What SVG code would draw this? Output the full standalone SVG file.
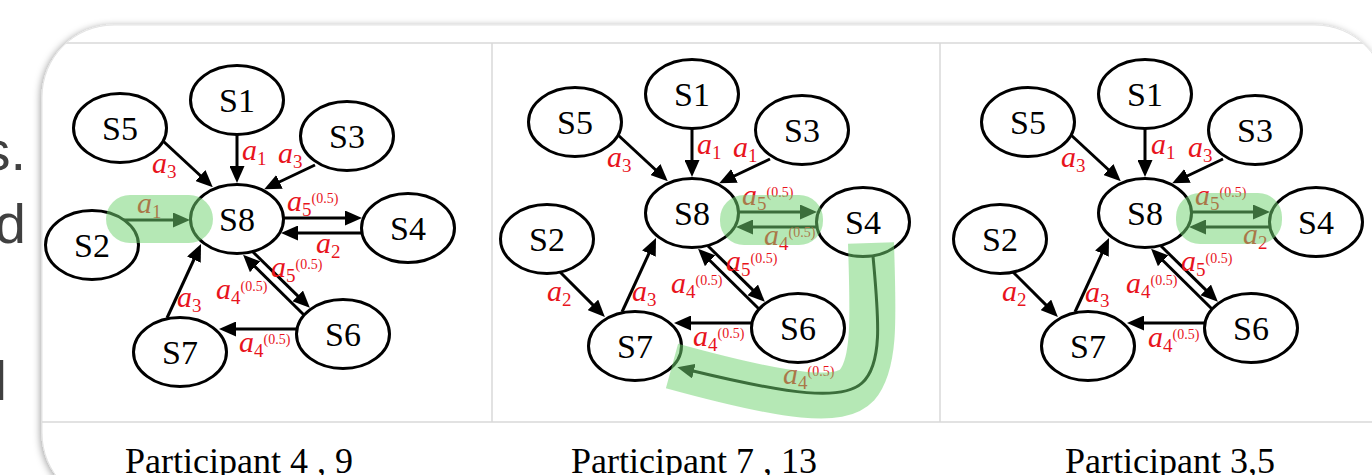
<svg xmlns="http://www.w3.org/2000/svg" width="1372" height="475" viewBox="0 0 1372 475">
<defs>
<style>
.node ellipse{fill:#fff;stroke:#000;stroke-width:3}
.node text{font-family:"Liberation Serif","Times New Roman",serif;font-size:34px;text-anchor:middle;fill:#000}
.edge{stroke:#000;stroke-width:3;fill:none;marker-end:url(#ah)}
.lbl{font-family:"Liberation Serif","Times New Roman",serif;font-style:italic;font-size:30px;fill:#e8141c}
.sub{font-size:19px;font-style:normal}
.sup{font-size:14px;font-style:normal}
.hl{fill:#72d372;opacity:0.52}
.hlband{stroke:#72d372;opacity:0.52;fill:none;stroke-width:46;stroke-linecap:butt}
.frame{stroke:#d9d9d9;stroke-width:1.5;fill:none}
.cap{font-family:"Liberation Serif","Times New Roman",serif;font-size:36px;text-anchor:middle;fill:#000}
.slide{font-family:"Liberation Sans",Arial,sans-serif;font-size:56px;fill:#404040;text-anchor:end}
</style>
<marker id="ah" viewBox="0 0 17 15" refX="5" refY="7.5" markerWidth="17" markerHeight="15" markerUnits="userSpaceOnUse" orient="auto"><path d="M0,0 L17,7.5 L0,15 z" fill="#000"/></marker>
<filter id="sh" x="-5%" y="-10%" width="110%" height="120%"><feDropShadow dx="-1.5" dy="1" stdDeviation="3.5" flood-color="#000" flood-opacity="0.35"/></filter>
<clipPath id="cardclip"><rect x="42" y="25" width="1345" height="480" rx="72"/></clipPath>
</defs>
<rect width="1372" height="475" fill="#fff"/>
<g id="slide-text">
<text class="slide" x="26" y="170">s.</text>
<text class="slide" x="26" y="243">d</text>
<text class="slide" x="7" y="400">l</text>
</g>
<rect id="card" x="42" y="25" width="1345" height="480" rx="72" fill="#fff" stroke="#e4e4e4" stroke-width="1" filter="url(#sh)"/>
<g id="frame" clip-path="url(#cardclip)">
<line class="frame" x1="42" y1="43" x2="1372" y2="43"/>
<line class="frame" x1="42" y1="422" x2="1372" y2="422"/>
<line class="frame" x1="492" y1="43" x2="492" y2="422"/>
<line class="frame" x1="940" y1="43" x2="940" y2="422"/>
</g>

<!-- Panel 1 -->
<g id="panel1" transform="translate(237,219)">
<g id="p1-connectors">
<path class="edge" d="M0,-84 L0,-48"/>
<path class="edge" d="M-74,-78 L-33,-40"/>
<path class="edge" d="M78,-54 L38,-35"/>
<path class="edge" d="M-114,1 L-59,1"/>
<path class="edge" d="M46,-1 L113,-1"/>
<path class="edge" d="M125,14 L56,14"/>
<path class="edge" d="M16,33 L64.3,80.4"/>
<path class="edge" d="M67,96 L14.6,44.3"/>
<path class="edge" d="M-70,99 L-41,36"/>
<path class="edge" d="M60,110 L-6,110"/>
</g>
<g id="p1-S1" class="node"><ellipse cx="0" cy="-119" rx="46.5" ry="34.5"/><text x="0" y="-107">S1</text></g>
<g id="p1-S5" class="node"><ellipse cx="-117" cy="-91" rx="46.5" ry="34.5"/><text x="-117" y="-79">S5</text></g>
<g id="p1-S3" class="node"><ellipse cx="110" cy="-83" rx="46.5" ry="34.5"/><text x="110" y="-71">S3</text></g>
<g id="p1-S8" class="node"><ellipse cx="0" cy="0" rx="46.5" ry="34.5"/><text x="0" y="12">S8</text></g>
<g id="p1-S4" class="node"><ellipse cx="171" cy="9" rx="46.5" ry="34.5"/><text x="171" y="21">S4</text></g>
<g id="p1-S2" class="node"><ellipse cx="-145" cy="26" rx="46.5" ry="34.5"/><text x="-145" y="38">S2</text></g>
<g id="p1-S7" class="node"><ellipse cx="-57" cy="133" rx="46.5" ry="34.5"/><text x="-57" y="145">S7</text></g>
<g id="p1-S6" class="node"><ellipse cx="106" cy="115" rx="46.5" ry="34.5"/><text x="106" y="127">S6</text></g>
<g id="p1-labels">
<text class="lbl" x="-85" y="-46">a<tspan class="sub" dy="5">3</tspan></text>
<text class="lbl" x="5" y="-59">a<tspan class="sub" dy="5">1</tspan></text>
<text class="lbl" x="41" y="-56">a<tspan class="sub" dy="5">3</tspan></text>
<text class="lbl" x="-100" y="-6">a<tspan class="sub" dy="5">1</tspan></text>
<text class="lbl" x="50" y="-8">a<tspan class="sub" dy="5">5</tspan><tspan class="sup" dy="-13">(0.5)</tspan></text>
<text class="lbl" x="79" y="34">a<tspan class="sub" dy="5">2</tspan></text>
<text class="lbl" x="34" y="58">a<tspan class="sub" dy="5">5</tspan><tspan class="sup" dy="-13">(0.5)</tspan></text>
<text class="lbl" x="-21" y="80">a<tspan class="sub" dy="5">4</tspan><tspan class="sup" dy="-13">(0.5)</tspan></text>
<text class="lbl" x="-60" y="88">a<tspan class="sub" dy="5">3</tspan></text>
<text class="lbl" x="2" y="133">a<tspan class="sub" dy="5">4</tspan><tspan class="sup" dy="-13">(0.5)</tspan></text>
</g>
<rect class="hl" x="-131" y="-24" width="107" height="48" rx="24"/>
</g>

<!-- Panel 2 -->
<g id="panel2" transform="translate(692,213)">
<g id="p2-connectors">
<path class="edge" d="M0,-84 L0,-48"/>
<path class="edge" d="M-74,-78 L-33,-40"/>
<path class="edge" d="M78,-54 L38,-35"/>
<path class="edge" d="M-132,59 L-95.6,95.4"/>
<path class="edge" d="M46,-1 L113,-1"/>
<path class="edge" d="M125,14 L56,14"/>
<path class="edge" d="M16,33 L64.3,80.4"/>
<path class="edge" d="M67,96 L14.6,44.3"/>
<path class="edge" d="M-70,99 L-41,36"/>
<path class="edge" d="M60,110 L-6,110"/>
<path class="edge" d="M181,43 C186,100 192,150 170,170 C150,188 100,182 -3,157"/>
</g>
<g id="p2-S1" class="node"><ellipse cx="0" cy="-119" rx="46.5" ry="34.5"/><text x="0" y="-107">S1</text></g>
<g id="p2-S5" class="node"><ellipse cx="-117" cy="-91" rx="46.5" ry="34.5"/><text x="-117" y="-79">S5</text></g>
<g id="p2-S3" class="node"><ellipse cx="110" cy="-83" rx="46.5" ry="34.5"/><text x="110" y="-71">S3</text></g>
<g id="p2-S8" class="node"><ellipse cx="0" cy="0" rx="46.5" ry="34.5"/><text x="0" y="12">S8</text></g>
<g id="p2-S4" class="node"><ellipse cx="171" cy="9" rx="46.5" ry="34.5"/><text x="171" y="21">S4</text></g>
<g id="p2-S2" class="node"><ellipse cx="-145" cy="26" rx="46.5" ry="34.5"/><text x="-145" y="38">S2</text></g>
<g id="p2-S7" class="node"><ellipse cx="-57" cy="133" rx="46.5" ry="34.5"/><text x="-57" y="145">S7</text></g>
<g id="p2-S6" class="node"><ellipse cx="106" cy="115" rx="46.5" ry="34.5"/><text x="106" y="127">S6</text></g>
<g id="p2-labels">
<text class="lbl" x="-85" y="-46">a<tspan class="sub" dy="5">3</tspan></text>
<text class="lbl" x="5" y="-59">a<tspan class="sub" dy="5">1</tspan></text>
<text class="lbl" x="41" y="-56">a<tspan class="sub" dy="5">1</tspan></text>
<text class="lbl" x="50" y="-8">a<tspan class="sub" dy="5">5</tspan><tspan class="sup" dy="-13">(0.5)</tspan></text>
<text class="lbl" x="72" y="32">a<tspan class="sub" dy="5">4</tspan><tspan class="sup" dy="-13">(0.5)</tspan></text>
<text class="lbl" x="34" y="58">a<tspan class="sub" dy="5">5</tspan><tspan class="sup" dy="-13">(0.5)</tspan></text>
<text class="lbl" x="-21" y="80">a<tspan class="sub" dy="5">4</tspan><tspan class="sup" dy="-13">(0.5)</tspan></text>
<text class="lbl" x="-60" y="88">a<tspan class="sub" dy="5">3</tspan></text>
<text class="lbl" x="-145" y="88">a<tspan class="sub" dy="5">2</tspan></text>
<text class="lbl" x="1" y="133">a<tspan class="sub" dy="5">4</tspan><tspan class="sup" dy="-13">(0.5)</tspan></text>
<text class="lbl" x="91" y="171">a<tspan class="sub" dy="5">4</tspan><tspan class="sup" dy="-13">(0.5)</tspan></text>
</g>
<rect class="hl" x="28" y="-18" width="103" height="50" rx="24"/>
<path class="hlband" d="M179,30 C181,100 184,150 165,172 C148,190 100,186 -20,153"/>
</g>

<!-- Panel 3 -->
<g id="panel3" transform="translate(1145,213)">
<g id="p3-connectors">
<path class="edge" d="M0,-84 L0,-48"/>
<path class="edge" d="M-74,-78 L-33,-40"/>
<path class="edge" d="M78,-54 L38,-35"/>
<path class="edge" d="M-132,59 L-95.6,95.4"/>
<path class="edge" d="M46,-1 L113,-1"/>
<path class="edge" d="M125,14 L56,14"/>
<path class="edge" d="M16,33 L64.3,80.4"/>
<path class="edge" d="M67,96 L14.6,44.3"/>
<path class="edge" d="M-70,99 L-41,36"/>
<path class="edge" d="M60,110 L-6,110"/>
</g>
<g id="p3-S1" class="node"><ellipse cx="0" cy="-119" rx="46.5" ry="34.5"/><text x="0" y="-107">S1</text></g>
<g id="p3-S5" class="node"><ellipse cx="-117" cy="-91" rx="46.5" ry="34.5"/><text x="-117" y="-79">S5</text></g>
<g id="p3-S3" class="node"><ellipse cx="110" cy="-83" rx="46.5" ry="34.5"/><text x="110" y="-71">S3</text></g>
<g id="p3-S8" class="node"><ellipse cx="0" cy="0" rx="46.5" ry="34.5"/><text x="0" y="12">S8</text></g>
<g id="p3-S4" class="node"><ellipse cx="171" cy="9" rx="46.5" ry="34.5"/><text x="171" y="21">S4</text></g>
<g id="p3-S2" class="node"><ellipse cx="-145" cy="26" rx="46.5" ry="34.5"/><text x="-145" y="38">S2</text></g>
<g id="p3-S7" class="node"><ellipse cx="-57" cy="133" rx="46.5" ry="34.5"/><text x="-57" y="145">S7</text></g>
<g id="p3-S6" class="node"><ellipse cx="106" cy="115" rx="46.5" ry="34.5"/><text x="106" y="127">S6</text></g>
<g id="p3-labels">
<text class="lbl" x="-84" y="-46">a<tspan class="sub" dy="5">3</tspan></text>
<text class="lbl" x="6" y="-59">a<tspan class="sub" dy="5">1</tspan></text>
<text class="lbl" x="43" y="-56">a<tspan class="sub" dy="5">3</tspan></text>
<text class="lbl" x="50" y="-8">a<tspan class="sub" dy="5">5</tspan><tspan class="sup" dy="-13">(0.5)</tspan></text>
<text class="lbl" x="98" y="31">a<tspan class="sub" dy="5">2</tspan></text>
<text class="lbl" x="36" y="58">a<tspan class="sub" dy="5">5</tspan><tspan class="sup" dy="-13">(0.5)</tspan></text>
<text class="lbl" x="-19" y="80">a<tspan class="sub" dy="5">4</tspan><tspan class="sup" dy="-13">(0.5)</tspan></text>
<text class="lbl" x="-60" y="89">a<tspan class="sub" dy="5">3</tspan></text>
<text class="lbl" x="-143" y="88">a<tspan class="sub" dy="5">2</tspan></text>
<text class="lbl" x="3" y="134">a<tspan class="sub" dy="5">4</tspan><tspan class="sup" dy="-13">(0.5)</tspan></text>
</g>
<rect class="hl" x="31" y="-20" width="106" height="51" rx="24"/>
</g>

<g id="captions">
<text class="cap" x="239" y="473">Participant 4 , 9</text>
<text class="cap" x="694" y="473">Participant 7 , 13</text>
<text class="cap" x="1170" y="473">Participant 3,5</text>
</g>
</svg>
